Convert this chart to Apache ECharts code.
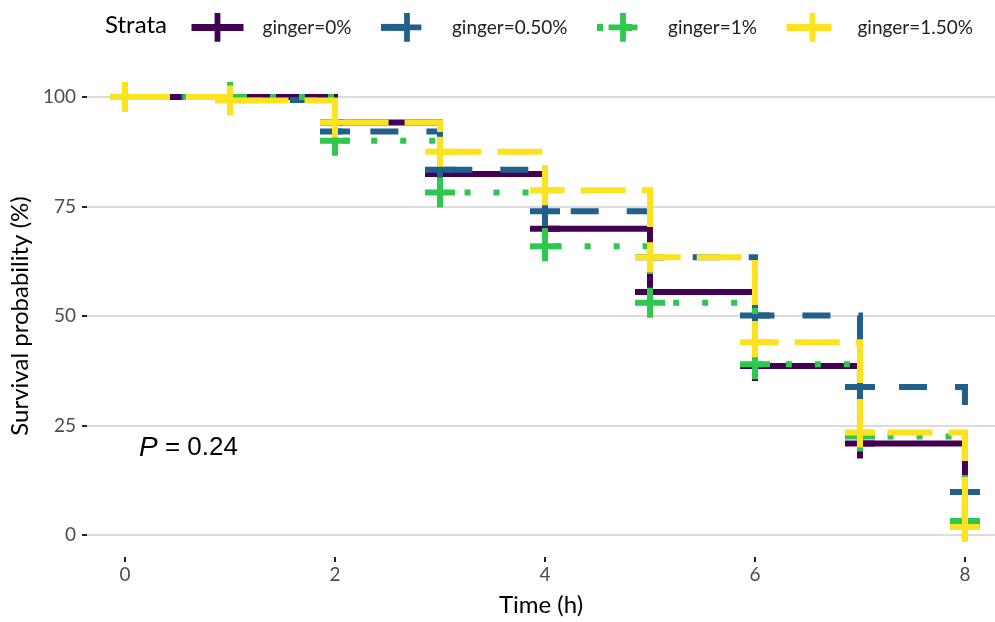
<!DOCTYPE html>
<html>
<head>
<meta charset="utf-8">
<script src="https://cdn.jsdelivr.net/npm/echarts@6/dist/echarts.min.js"></script>
<style>html,body{margin:0;padding:0;background:#fff}#c{width:995px;height:622px}</style>
</head>
<body>
<div id="c"></div>
<script>
// ---- data ----
const times = [0, 1, 2, 3, 4, 5, 6, 7, 8];
const strataNames = ['ginger=0%', 'ginger=0.50%', 'ginger=1%', 'ginger=1.50%'];
const surv0 = [100, 100, 94.2, 82.4, 69.9, 55.5, 38.6, 20.9, 2.5];
const surv050 = [100, 99.3, 92.1, 83.4, 73.9, 63.4, 50.1, 33.8, 9.8];
const surv1 = [100, 100, 90.0, 78.2, 65.9, 53.0, 39.0, 22.5, 3.2];
const surv150 = [100, 99.2, 94.2, 87.5, 78.7, 63.4, 44.0, 23.4, 1.8];
const xTicks = [0, 2, 4, 6, 8];
const yTicks = [0, 25, 50, 75, 100];
const pText = '0.24';

const colors = ['#440154', '#21608C', '#2DC84D', '#FDE31F'];
const dashes = ['solid', [28, 28], [6, 23], [45, 16]];
const seriesValues = [surv0, surv050, surv1, surv150];
const plus = 'path://M0,12 H12 V0 H18 V12 H30 V18 H18 V30 H12 V18 H0 Z';
const font = 'Lato';

const chart = echarts.init(document.getElementById('c'), null, {renderer: 'canvas'});
const series = strataNames.map((name, i) => ({
  name: name,
  type: 'line',
  step: 'end',
  clip: false,
  data: times.map((t, k) => [t, seriesValues[i][k]]),
  symbol: plus,
  symbolSize: [30, 30],
  showSymbol: true,
  showAllSymbol: true,
  itemStyle: {color: colors[i]},
  lineStyle: {color: colors[i], width: 6, type: dashes[i], cap: 'butt', join: 'miter'},
  emphasis: {disabled: true},
  animation: false,
  z: 2 + i
}));

chart.setOption({
  animation: false,
  grid: {left: 87, right: 0, top: 97, bottom: 86},
  legend: {
    left: 183, top: 8,
    itemWidth: 52, itemHeight: 36, itemGap: 26,
    data: strataNames,
    lineStyle: {width: 7},
    textStyle: {fontFamily: font, fontSize: 19, color: '#222', padding: [0, 0, 0, 14]}
  },
  graphic: [
    {type: 'text', left: 105, top: 13, style: {text: 'Strata', fontFamily: font, fontSize: 24, fill: '#000'}},
    {type: 'text', left: 139, top: 434, style: {
      text: '{i|P} = ' + pText,
      rich: {i: {fontFamily: 'Liberation Sans', fontStyle: 'italic', fontSize: 28, fill: '#000'}},
      fontFamily: 'Liberation Sans', fontSize: 26, fill: '#000'
    }}
  ],
  xAxis: {
    type: 'value',
    min: -0.362, max: 8.286,
    offset: 22,
    name: 'Time (h)', nameLocation: 'middle', nameGap: 36,
    nameTextStyle: {fontFamily: font, fontSize: 24, color: '#000'},
    axisLine: {show: false, onZero: false},
    axisTick: {show: true, customValues: xTicks, length: 5, lineStyle: {color: '#222', width: 2}},
    axisLabel: {customValues: xTicks, fontFamily: font, fontSize: 19, color: '#4d4d4d', margin: 8},
    splitLine: {show: false}
  },
  yAxis: {
    type: 'value',
    min: 0, max: 100, interval: 25,
    name: 'Survival probability (%)', nameLocation: 'middle', nameGap: 48, nameRotate: 90,
    nameTextStyle: {fontFamily: font, fontSize: 24, color: '#000'},
    axisLine: {show: false, onZero: false},
    axisTick: {show: true, length: 5, lineStyle: {color: '#222', width: 2}},
    axisLabel: {fontFamily: font, fontSize: 19, color: '#4d4d4d', margin: 11},
    splitLine: {show: true, lineStyle: {color: '#dcdcdc', width: 2}}
  },
  series: series
});
</script>
</body>
</html>
